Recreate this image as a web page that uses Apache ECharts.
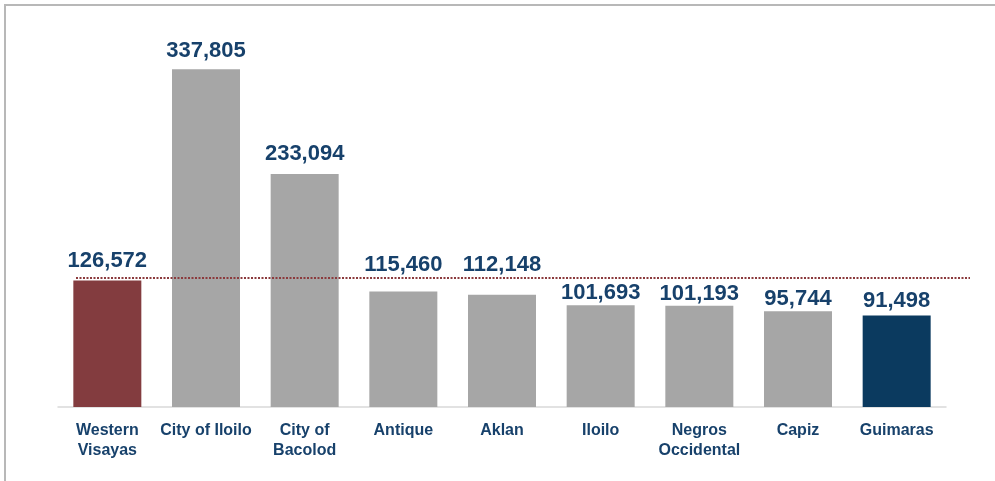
<!DOCTYPE html>
<html>
<head>
<meta charset="utf-8">
<script src="https://cdn.jsdelivr.net/npm/echarts@6/dist/echarts.min.js"></script>
<style>
  html, body { margin: 0; padding: 0; background: #fff; }
  .frame {
    position: absolute; left: 4px; top: 4px; width: 991px; height: 477px;
    border-top: 2px solid #b8b8b8; border-left: 2px solid #b8b8b8;
    box-sizing: border-box;
  }
  #chart { position: absolute; left: 0; top: 0; width: 995px; height: 481px; }
</style>
</head>
<body>
<div class="frame"></div>
<div id="chart"></div>
<script>
// categories and values
const provinces = ['Western\nVisayas', 'City of Iloilo', 'City of\nBacolod', 'Antique', 'Aklan',
  'Iloilo', 'Negros\nOccidental', 'Capiz', 'Guimaras'];
const perCapita = [126572, 337805, 233094, 115460, 112148, 101693, 101193, 95744, 91498];
const barColors = ['#833c3f', '#a6a6a6', '#a6a6a6', '#a6a6a6', '#a6a6a6',
  '#a6a6a6', '#a6a6a6', '#a6a6a6', '#0b3a5f'];
// dotted reference line level (roughly the regional value)
const refLevel = 129000;

// gap between bar top and its value label (labels were placed by hand)
const labelGap = [8, 7, 9, 16, 19, 1, 1, 1, 4];

const textBlue = '#17416b';
const yMax = 400000;

const chart = echarts.init(document.getElementById('chart'));

chart.setOption({
  animation: false,
  grid: [
    { left: 58, right: 49, top: 7, bottom: 74 },
    // wider grid only for the dotted line, same vertical scale
    { left: 76, right: 25, top: 7, bottom: 74 }
  ],
  xAxis: [
    {
      type: 'category',
      gridIndex: 0,
      data: provinces,
      axisLine: { lineStyle: { color: '#d9d9d9', width: 1.5 } },
      axisTick: { show: false },
      axisLabel: {
        interval: 0,
        margin: 14,
        color: textBlue,
        fontFamily: 'Liberation Sans, Arial, sans-serif',
        fontWeight: 'bold',
        fontSize: 16,
        lineHeight: 20
      }
    },
    { type: 'value', gridIndex: 1, min: 0, max: 1, show: false }
  ],
  yAxis: [
    { type: 'value', gridIndex: 0, min: 0, max: yMax, show: false, splitLine: { show: false } },
    { type: 'value', gridIndex: 1, min: 0, max: yMax, show: false, splitLine: { show: false } }
  ],
  series: [
    {
      type: 'bar',
      xAxisIndex: 0,
      yAxisIndex: 0,
      barWidth: 68,
      z: 2,
      data: perCapita.map((v, i) => ({
        value: v,
        itemStyle: { color: barColors[i] },
        label: { distance: labelGap[i] }
      })),
      label: {
        show: true,
        position: 'top',
        color: textBlue,
        fontFamily: 'Liberation Sans, Arial, sans-serif',
        fontWeight: 'bold',
        fontSize: 22,
        formatter: p => p.value.toLocaleString('en-US')
      }
    },
    {
      // dotted line sits on top of the bars
      type: 'line',
      xAxisIndex: 1,
      yAxisIndex: 1,
      symbol: 'none',
      silent: true,
      z: 4,
      lineStyle: { color: '#8b3a3d', width: 2, type: [2, 1.5] },
      data: [[0, refLevel], [1, refLevel]]
    }
  ]
});
</script>
</body>
</html>
